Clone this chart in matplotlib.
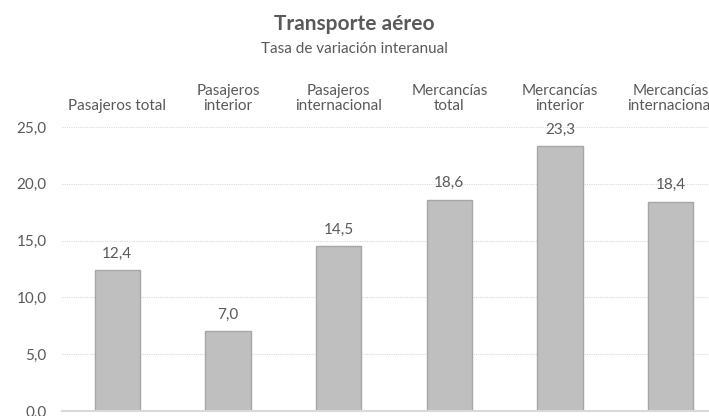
import matplotlib.pyplot as plt
from matplotlib.ticker import FixedLocator, FuncFormatter
import matplotlib.transforms as mtransforms

# data
categorias = ["Pasajeros total", "Pasajeros\ninterior", "Pasajeros\ninternacional",
              "Mercancías\ntotal", "Mercancías\ninterior", "Mercancías\ninternacional"]
tasas = [12.4, 7.0, 14.5, 18.6, 23.3, 18.4]
yticks = [0, 5, 10, 15, 20, 25]

plt.rcParams['font.family'] = ['Lato', 'DejaVu Sans']

BAR_COLOR = "#bfbfbf"
EDGE_COLOR = "#a6a6a6"
TEXT_COLOR = "#595959"
GRID_COLOR = "#d9d9d9"

fig = plt.figure(figsize=(7.09, 4.16), dpi=100)
# plot area runs a little past the right edge of the canvas
ax = fig.add_axes([62 / 709, 5 / 416, 664 / 709, 284 / 416])

x = list(range(len(categorias)))
bars = ax.bar(x, tasas, width=0.41, color=BAR_COLOR, edgecolor=EDGE_COLOR,
              linewidth=1.0, zorder=3)

ax.set_xlim(-0.5, len(categorias) - 0.5)
ax.set_ylim(0, 25)
ax.yaxis.set_major_locator(FixedLocator(yticks))
ax.yaxis.set_major_formatter(FuncFormatter(lambda v, p: f"{v:.1f}".replace(".", ",")))
ax.tick_params(axis='y', length=0, labelsize=11, colors=TEXT_COLOR, pad=11)
ax.set_xticks([])
ax.grid(axis='y', color=GRID_COLOR, linestyle=(0, (1, 1)), linewidth=0.8, zorder=0)

for s in ['top', 'right', 'left']:
    ax.spines[s].set_visible(False)
ax.spines['bottom'].set_color(GRID_COLOR)
ax.spines['bottom'].set_linewidth(1.5)
ax.spines['bottom'].set_zorder(4)

# value labels
for xi, v in zip(x, tasas):
    ax.annotate(f"{v:.1f}".replace(".", ","), (xi, v), xytext=(0, 7),
                textcoords='offset points', ha='center', va='bottom',
                fontsize=11, color=TEXT_COLOR)

# category labels above the plot
trans = mtransforms.blended_transform_factory(ax.transData, fig.transFigure)
for xi, cat in zip(x, categorias):
    ax.text(xi, 1 - 113 / 416, cat, transform=trans, ha='center', va='bottom',
            fontsize=11, color=TEXT_COLOR, linespacing=1.05, clip_on=False)

fig.text(0.5, 1 - 24 / 416, "Transporte aéreo", ha='center', va='center',
         fontsize=15, fontweight='bold', color=TEXT_COLOR)
fig.text(0.5, 1 - 49 / 416, "Tasa de variación interanual", ha='center', va='center',
         fontsize=11, color=TEXT_COLOR)

fig.savefig("out.png", dpi=100)
